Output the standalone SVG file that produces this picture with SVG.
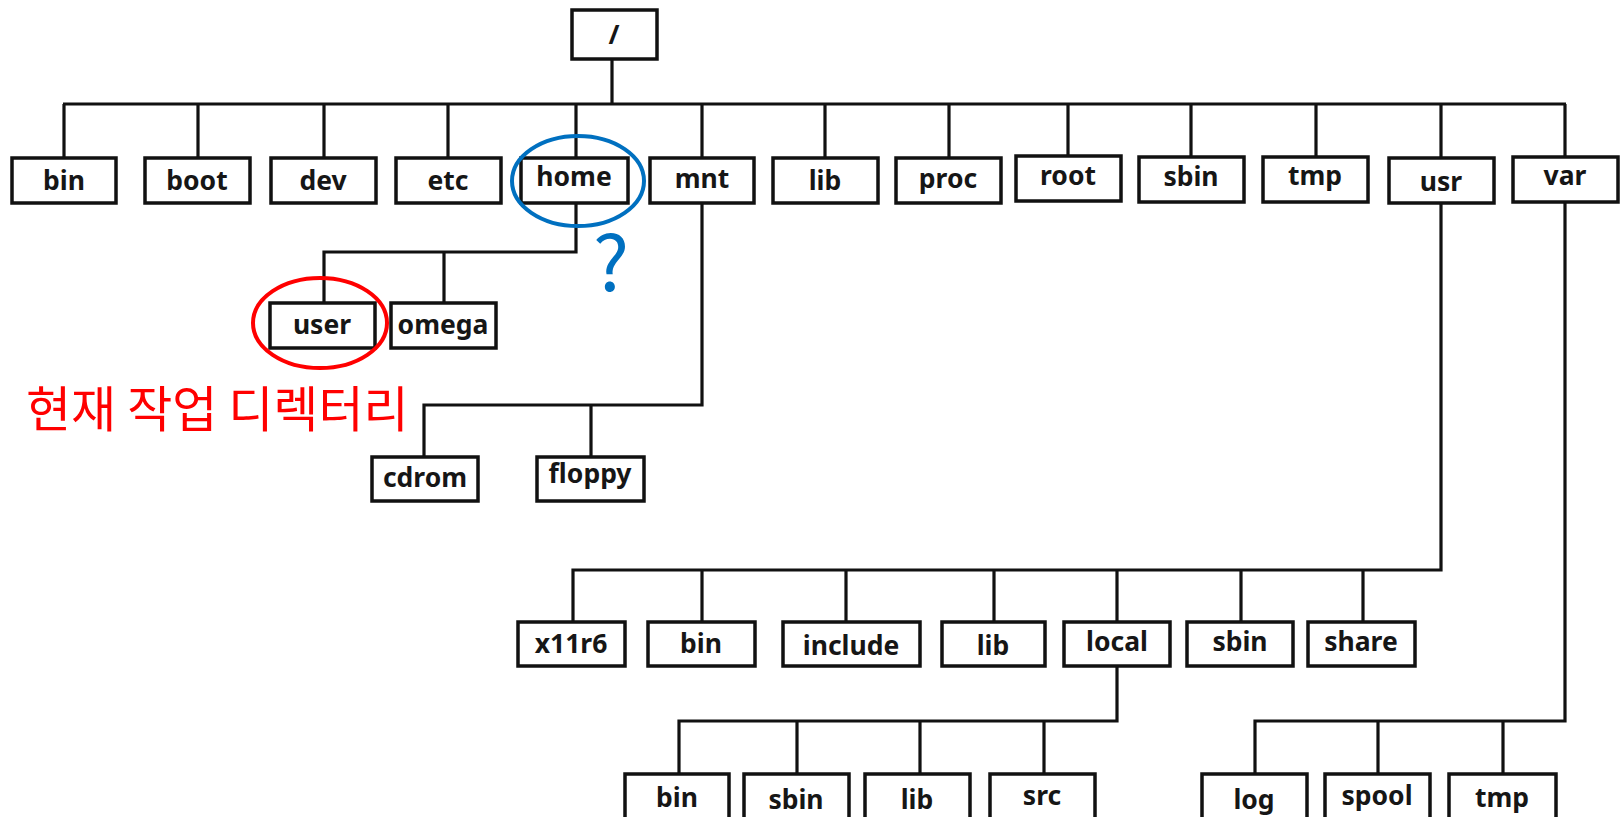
<svg xmlns="http://www.w3.org/2000/svg" width="1621" height="817" viewBox="0 0 1621 817">
<style>
.b{fill:#fff;stroke:#111;stroke-width:3.5}
.t{font-family:"Noto Sans","Open Sans","Liberation Sans",sans-serif;font-weight:bold;font-size:26.5px;fill:#161616;text-anchor:middle}
.c{fill:none;stroke:#111;stroke-width:3.2}
</style>
<rect width="1621" height="817" fill="#fff"/>
<g id="connectors" class="c">
<path d="M612 59V104M63 104H1566M64 104V158M198 104V158M324 104V158M448 104V158M576 104V158M702 104V158M825 104V158M949 104V158M1068 104V158M1191 104V158M1316 104V158M1441 104V158M1565 104V158"/>
<path d="M576 203V252H324V303M444 252V303"/>
<path d="M702 203V405H424V457M591 405V457"/>
<path d="M1441 203V570H573V622M702 570V622M846 570V622M994 570V622M1117 570V622M1241 570V622M1363 570V622"/>
<path d="M1117 666V721H679V774M797 721V774M920 721V774M1044 721V774"/>
<path d="M1565 203V721H1255V774M1378 721V774M1503 721V774"/>
</g>
<g id="n-root"><rect class="b" x="572" y="10" width="85" height="49"/><text class="t" x="614" y="44">/</text></g>
<g id="n-bin"><rect class="b" x="12" y="158" width="104" height="45"/><text class="t" x="64" y="190">bin</text></g>
<g id="n-boot"><rect class="b" x="145" y="158" width="105" height="45"/><text class="t" x="197" y="190">boot</text></g>
<g id="n-dev"><rect class="b" x="271" y="158" width="105" height="45"/><text class="t" x="323" y="190">dev</text></g>
<g id="n-etc"><rect class="b" x="396" y="158" width="105" height="45"/><text class="t" x="448" y="190">etc</text></g>
<g id="n-home"><rect class="b" x="521" y="158" width="107" height="45"/><text class="t" x="574" y="186">home</text></g>
<g id="n-mnt"><rect class="b" x="650" y="158" width="104" height="45"/><text class="t" x="702" y="188">mnt</text></g>
<g id="n-lib"><rect class="b" x="773" y="158" width="105" height="45"/><text class="t" x="825" y="190">lib</text></g>
<g id="n-proc"><rect class="b" x="896" y="158" width="105" height="45"/><text class="t" x="948" y="188">proc</text></g>
<g id="n-root-dir"><rect class="b" x="1016" y="156" width="105" height="45"/><text class="t" x="1068" y="185">root</text></g>
<g id="n-sbin"><rect class="b" x="1139" y="157" width="105" height="45"/><text class="t" x="1191" y="186">sbin</text></g>
<g id="n-tmp"><rect class="b" x="1263" y="157" width="105" height="45"/><text class="t" x="1315" y="185">tmp</text></g>
<g id="n-usr"><rect class="b" x="1389" y="158" width="105" height="45"/><text class="t" x="1441" y="191">usr</text></g>
<g id="n-var"><rect class="b" x="1513" y="157" width="105" height="45"/><text class="t" x="1565" y="185">var</text></g>
<g id="n-user"><rect class="b" x="270" y="303" width="105" height="45"/><text class="t" x="322" y="334">user</text></g>
<g id="n-omega"><rect class="b" x="391" y="303" width="105" height="45"/><text class="t" x="443" y="334">omega</text></g>
<g id="n-cdrom"><rect class="b" x="372" y="457" width="106" height="44"/><text class="t" x="425" y="487">cdrom</text></g>
<g id="n-floppy"><rect class="b" x="537" y="457" width="107" height="44"/><text class="t" x="590" y="483">floppy</text></g>
<g id="n-x11r6"><rect class="b" x="518" y="622" width="107" height="44"/><text class="t" x="571" y="653">x11r6</text></g>
<g id="n-usr-bin"><rect class="b" x="648" y="622" width="107" height="44"/><text class="t" x="701" y="653">bin</text></g>
<g id="n-include"><rect class="b" x="783" y="622" width="137" height="44"/><text class="t" x="851" y="655">include</text></g>
<g id="n-usr-lib"><rect class="b" x="942" y="622" width="103" height="44"/><text class="t" x="993" y="655">lib</text></g>
<g id="n-local"><rect class="b" x="1064" y="622" width="106" height="44"/><text class="t" x="1117" y="651">local</text></g>
<g id="n-usr-sbin"><rect class="b" x="1187" y="622" width="106" height="44"/><text class="t" x="1240" y="651">sbin</text></g>
<g id="n-share"><rect class="b" x="1308" y="622" width="107" height="44"/><text class="t" x="1361" y="651">share</text></g>
<g id="n-local-bin"><rect class="b" x="625" y="774" width="104" height="46"/><text class="t" x="677" y="807">bin</text></g>
<g id="n-local-sbin"><rect class="b" x="744" y="774" width="105" height="46"/><text class="t" x="796" y="809">sbin</text></g>
<g id="n-local-lib"><rect class="b" x="865" y="774" width="105" height="46"/><text class="t" x="917" y="809">lib</text></g>
<g id="n-src"><rect class="b" x="990" y="774" width="105" height="46"/><text class="t" x="1042" y="805">src</text></g>
<g id="n-log"><rect class="b" x="1202" y="774" width="105" height="46"/><text class="t" x="1254" y="809">log</text></g>
<g id="n-spool"><rect class="b" x="1325" y="774" width="105" height="46"/><text class="t" x="1377" y="805">spool</text></g>
<g id="n-var-tmp"><rect class="b" x="1449" y="774" width="107" height="46"/><text class="t" x="1502" y="807">tmp</text></g>
<g id="annotations">
<ellipse cx="578" cy="181" rx="66" ry="45" fill="none" stroke="#0070C0" stroke-width="4"/>
<text x="611" y="291" font-family="'Noto Sans CJK KR','Noto Sans',sans-serif" font-size="76" fill="#0070C0" text-anchor="middle">?</text>
<ellipse cx="320" cy="323" rx="67" ry="45" fill="none" stroke="#FF0000" stroke-width="4"/>
<text x="26" y="427" font-family="'Noto Sans CJK KR',sans-serif" font-size="49" fill="#FF0000">현재 작업 디렉터리</text>
</g>
</svg>
